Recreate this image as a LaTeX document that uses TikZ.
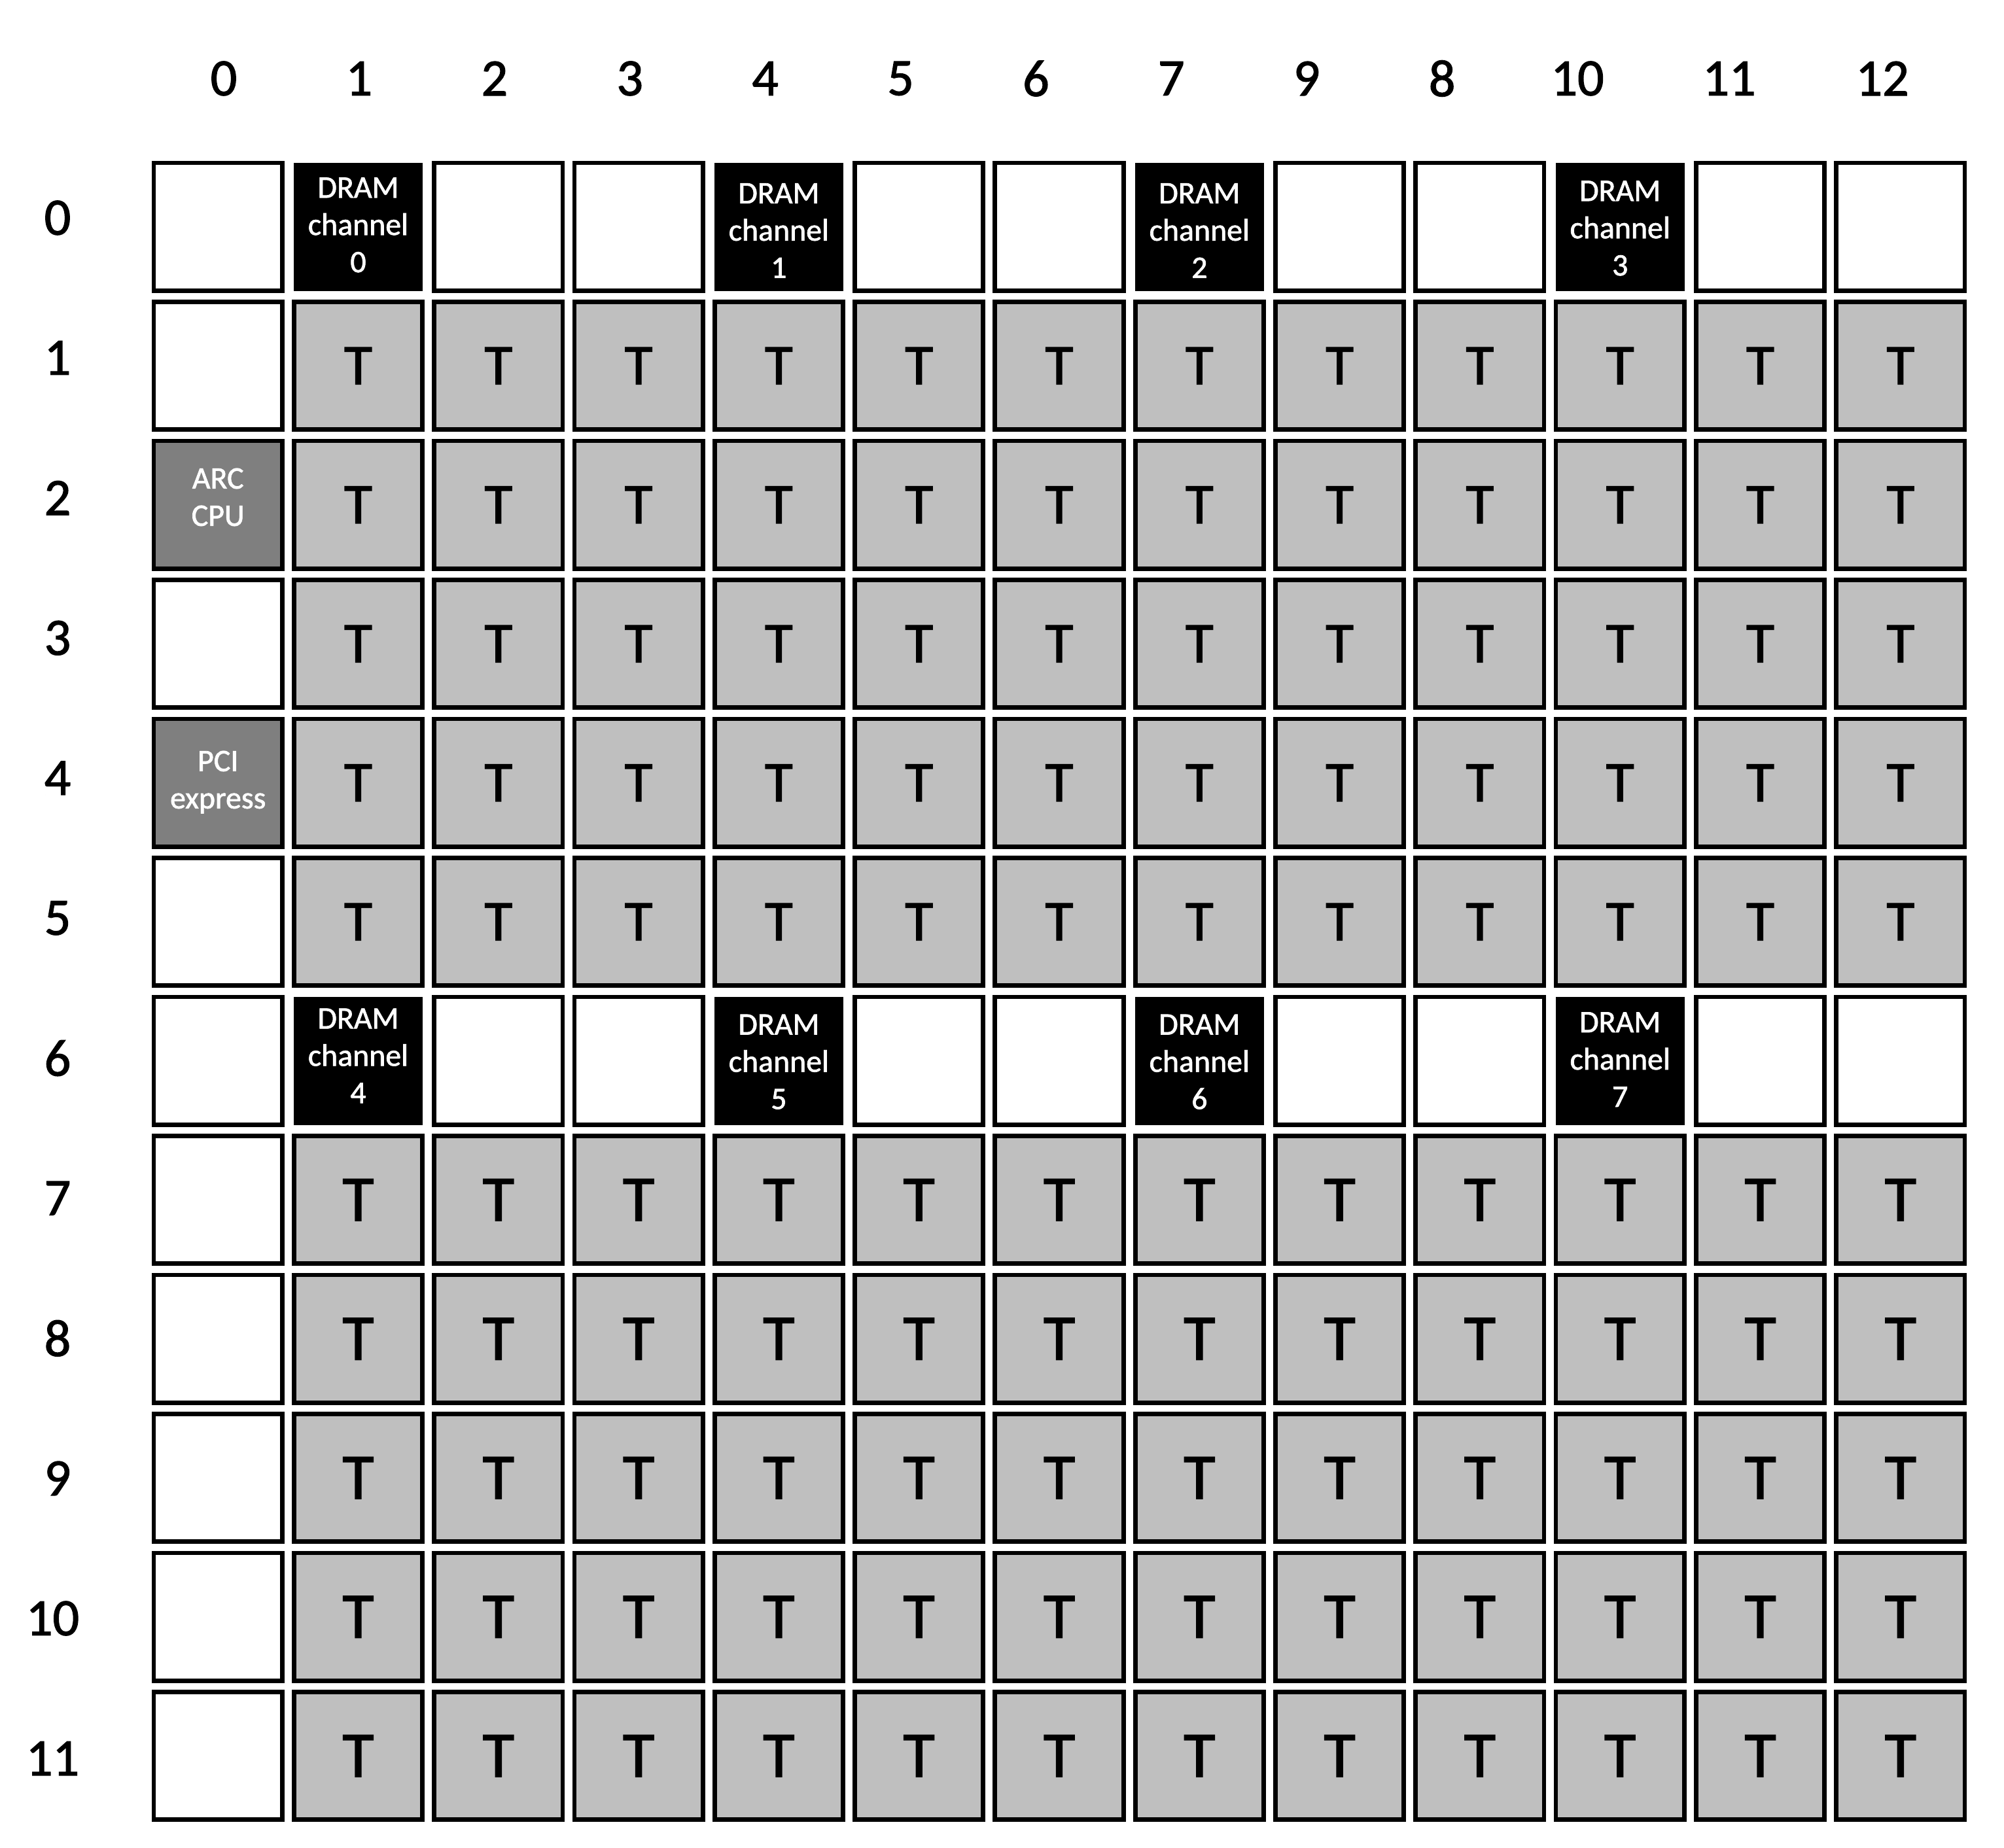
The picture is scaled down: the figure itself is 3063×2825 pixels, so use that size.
\documentclass[tikz,border=0pt]{standalone}
\usepackage{fontspec}
\setmainfont{Carlito}[FakeBold=1.5]
\definecolor{tilegray}{RGB}{191,191,191}
\definecolor{iogray}{RGB}{127,127,127}
\begin{document}
\begin{tikzpicture}[x=0.01cm,y=-0.01cm,
  cellbox/.style={draw=black, line width=0.068cm, minimum width=1.962cm, minimum height=1.952cm, inner sep=0pt, outer sep=0pt},
  emptycell/.style={cellbox, fill=white},
  tile/.style={cellbox, fill=tilegray},
  tileA/.style={tile, font=\fontsize{25}{30}\selectfont},
  tileB/.style={tile, font=\fontsize{28.2}{34}\selectfont},
  iocell/.style={cellbox, fill=iogray},
  dramcell/.style={fill=black, minimum width=1.97cm, minimum height=1.96cm, inner sep=0pt, outer sep=0pt},
  celltext/.style={text=white, align=center, inner sep=0pt, font=\fontsize{13.6}{16.2}\selectfont},
  axislabel/.style={font=\fontsize{22.8}{27}\selectfont, inner sep=0pt}]
\useasboundingbox (0,0) rectangle (3063,2825);

% column headers
\foreach \c/\t in {0/0,1/1,2/2,3/3,4/4,5/5,6/6,7/7,8/9,9/8,10/10}
  \node[axislabel] (h\c) at ({342+206.9*\c},120) {\t};
\node[axislabel] (h11) at (2643,120) {11};
\node[axislabel] (h12) at (2877,120) {12};

% row labels
\foreach \r in {0,...,9}
  \node[axislabel] (r\r) at (88,{333+214.1*\r}) {\r};
\foreach \r in {10,11}
  \node[axislabel] (r\r) at (80.5,{333+214.1*\r}) {\r};

% empty cells, column 0
\foreach \r in {0,1,3,5,6,7,8,9,10,11}
  \node[emptycell] (c\r-0) at (333.2,{346.7+212.5*\r}) {};
% empty cells, rows 0 and 6
\foreach \r in {0,6}
  \foreach \c in {2,3,5,6,8,9,11,12}
    \node[emptycell] (c\r-\c) at ({333.2+214.3*\c},{346.7+212.5*\r}) {};

% DRAM channels
\foreach \r/\c/\n/\dy in {0/1/0/-2.7,0/4/1/5.8,0/7/2/5.8,0/10/3/2.3,6/1/4/-7.7,6/4/5/1.6,6/7/6/1.6,6/10/7/-2}{
  \node[dramcell] (c\r-\c) at ({333.2+214.3*\c},{346.7+212.5*\r}) {};
  \node[celltext] (d\n) at ({333.2+214.3*\c},{346.7+212.5*\r+\dy}) {DRAM\\channel\\\n};
}

% ARC CPU and PCI express
\node[iocell] (c2-0) at (333.2,{346.7+212.5*2}) {};
\node[celltext] (arc) at (333.2,760) {ARC\\CPU};
\node[iocell] (c4-0) at (333.2,{346.7+212.5*4}) {};
\node[celltext] (pci) at (333.2,1195.7) {PCI\\express};

% Tensix tiles
\foreach \r in {1,...,5}
  \foreach \c in {1,...,12}
    \node[tileA] (c\r-\c) at ({333.2+214.3*\c},{346.7+212.5*\r}) {T};
\foreach \r in {7,...,11}
  \foreach \c in {1,...,12}
    \node[tileB] (c\r-\c) at ({333.2+214.3*\c},{346.7+212.5*\r}) {T};
\end{tikzpicture}
\end{document}
